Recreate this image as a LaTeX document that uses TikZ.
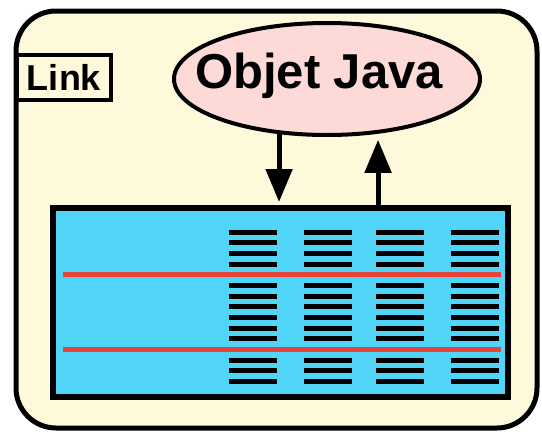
\documentclass[tikz,border=0pt]{standalone}
\usepackage{fontspec}
\setmainfont{Liberation Sans}
\usetikzlibrary{arrows.meta,shapes.geometric}
\definecolor{paper}{HTML}{FFF9DC}
\definecolor{objfill}{HTML}{FDD9D8}
\definecolor{store}{HTML}{50D4F7}
\definecolor{row}{HTML}{E8443A}

\tikzset{
  frame/.style={draw,line width=5pt,fill=paper,rounded corners=40pt},
  tag/.style={draw,line width=4pt,fill=paper,minimum width=94pt,minimum height=45pt,
    inner sep=0pt,font=\fontsize{36}{40}\selectfont\bfseries},
  object/.style={ellipse,draw,line width=4pt,fill=objfill,minimum width=306pt,
    minimum height=112pt,inner sep=0pt},
  bigtext/.style={font=\fontsize{49}{55}\selectfont\bfseries},
  table/.style={rectangle,draw,line width=6pt,fill=store,minimum width=455pt,
    minimum height=189pt,inner sep=0pt},
  flow/.style={line width=5pt,-{Triangle[length=33pt,width=26pt]}},
  slot/.style={line width=5pt},
  split/.style={row,line width=5pt}
}

\begin{document}
\begin{tikzpicture}[x=1pt,y=-1pt]
  \useasboundingbox (0,0) rectangle (542,434);

  % Container
  \draw[frame] (16,11) rectangle (537,428);
  \node[tag] (link) at (64,77.5) {Link};

  % Object and its storage
  \node[object,label={[bigtext,xshift=-8pt,yshift=3pt]center:Objet Java}] (obj) at (327,79) {};
  \node[table] (tbl) at (280.5,302.5) {};

  % Slots in each column
  \foreach \cx in {229,304,376,451}
    \foreach \k in {0,1,2,3,5,6,7,8,9,10,12,13,14}
      \draw[slot] (\cx,232+\k*10.67) -- ++(48,0);

  % Row separators
  \draw[split] (63,274.7) -- (501,274.7);
  \draw[split] (63,349.4) -- (501,349.4);

  % Read / write
  \draw[flow,shorten >=3pt] (obj.229) -- (obj.229 |- tbl.north);
  \draw[flow,shorten >=6pt] (obj.313 |- tbl.north) -- (obj.313);
\end{tikzpicture}
\end{document}
